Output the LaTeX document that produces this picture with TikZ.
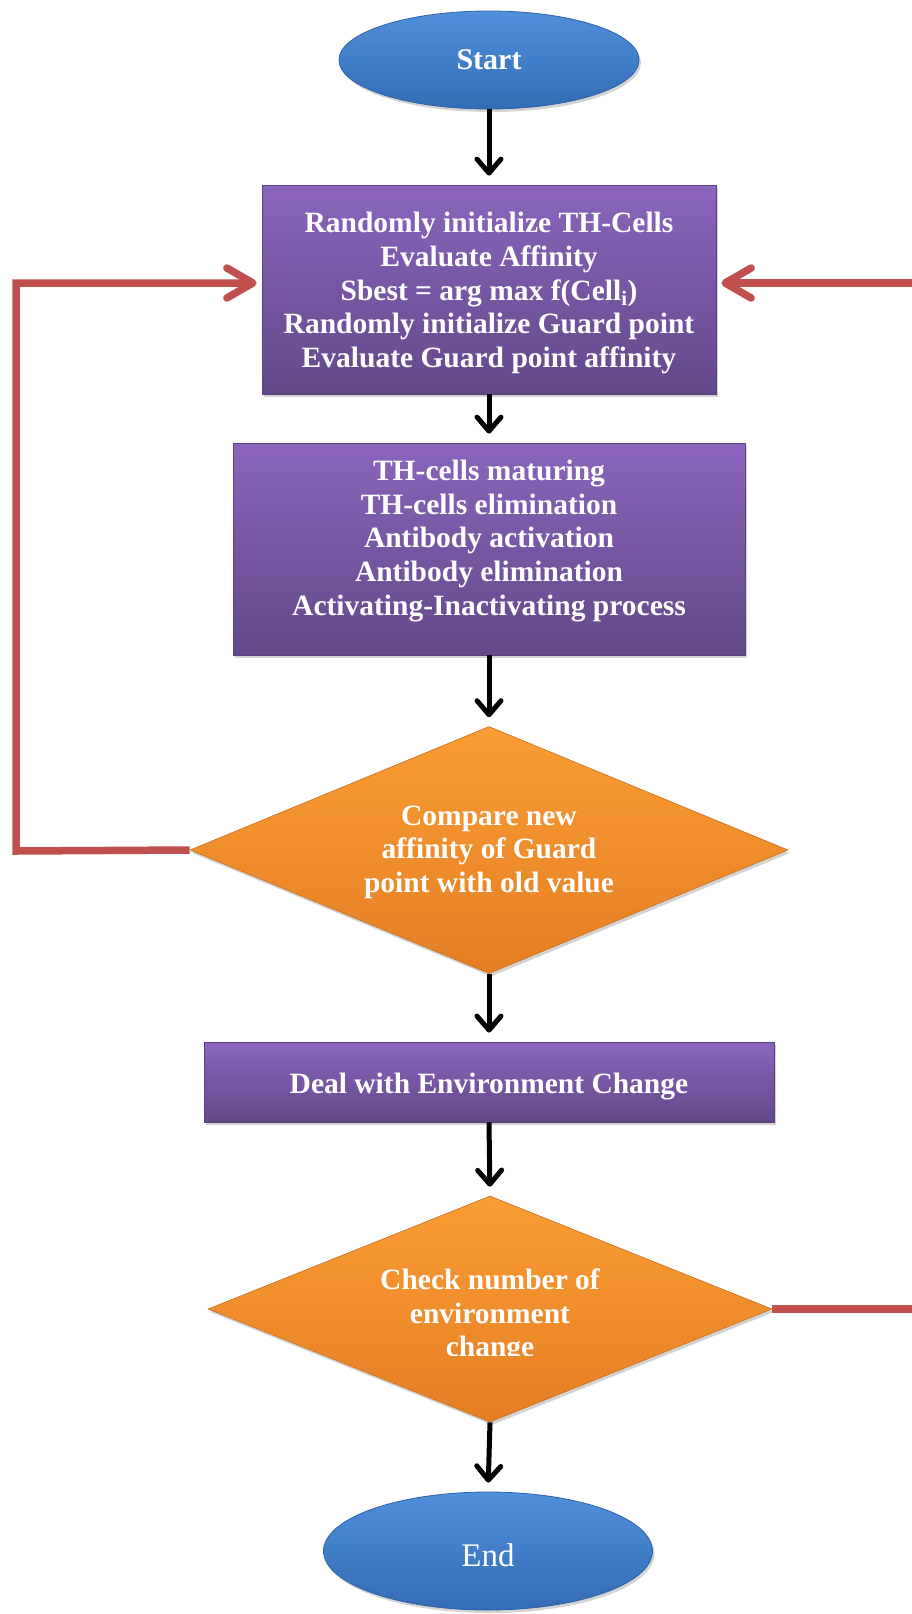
\documentclass[tikz,border=0pt]{standalone}
\usepackage{fontspec}
\setmainfont{Liberation Serif}
\usetikzlibrary{shapes.geometric,arrows.meta,shadows}
\definecolor{bluetop}{HTML}{4F8FDB}
\definecolor{bluebot}{HTML}{336CB5}
\definecolor{blueedge}{HTML}{2E62A6}
\definecolor{purtop}{HTML}{8A65BC}
\definecolor{purbot}{HTML}{634889}
\definecolor{puredge}{HTML}{5A4080}
\definecolor{ortop}{HTML}{FA9D34}
\definecolor{orbot}{HTML}{E47E24}
\definecolor{oredge}{HTML}{C96E1E}
\definecolor{redc}{HTML}{C0504D}
\begin{document}
\begin{tikzpicture}[x=1pt,y=-1pt,
  txt/.style={text=white,font=\fontsize{29.5}{33.6}\selectfont\bfseries,align=center,inner sep=0pt},
  shad/.style={drop shadow={shadow xshift=2pt,shadow yshift=-3pt,opacity=0.35}},
  term/.style={ellipse,top color=bluetop,bottom color=bluebot,draw=blueedge,line width=0.8pt,inner sep=0pt,shad},
  proc/.style={rectangle,top color=purtop,bottom color=purbot,draw=puredge,line width=0.8pt,inner sep=0pt,shad},
  dec/.style={diamond,top color=ortop,bottom color=orbot,draw=oredge,line width=0.6pt,inner sep=0pt,shad},
  flow/.style={line width=5pt,draw=black,shorten >=9pt,-{Straight Barb[length=14pt,width=24pt,round]}},
  loopline/.style={line width=7.5pt,draw=redc,line join=miter},
  looparrow/.style={loopline,shorten >=5pt,-{Straight Barb[length=26pt,width=30pt,round]}}
]
\useasboundingbox (0,0) rectangle (912,1614);

% nodes
\node[term,minimum width=300pt,minimum height=98pt] (start) at (489,60) {};
\node[txt,font=\fontsize{30}{34}\selectfont\bfseries] (tstart) at (489,60) {Start};

\node[proc,minimum width=454pt,minimum height=209pt] (b1) at (489,289.5) {};
\node[txt] (t1) at (489,293) {Randomly initialize TH-Cells\\Evaluate Affinity\\Sbest = arg max f(Cell\textsubscript{i})\\Randomly initialize Guard point\\Evaluate Guard point affinity};

\node[proc,minimum width=512pt,minimum height=212pt] (b2) at (489,549) {};
\node[txt] (t2) at (489,541) {TH-cells maturing\\TH-cells elimination\\Antibody activation\\Antibody elimination\\Activating-Inactivating process};

\node[dec,minimum width=598pt,minimum height=247pt] (d1) at (489,850) {};
\node[txt] (t3) at (489,852) {Compare new\\affinity of Guard\\point with old value};

\node[proc,minimum width=570pt,minimum height=80pt] (b3) at (489,1082) {};
\node[txt] (t4) at (489,1087) {Deal with Environment Change};

\node[dec,minimum width=564pt,minimum height=226pt] (d2) at (490,1309) {};
\begin{scope}
  \clip (200,1190) rectangle (780,1355);
  \node[txt] (t5) at (490,1316) {Check number of\\environment\\change};
\end{scope}

\node[term,minimum width=329pt,minimum height=118pt] (end) at (488,1551) {};
\node[txt,font=\fontsize{33}{36}\selectfont] (tend) at (488,1555) {End};

% black flow arrows
\draw[flow] (start.south) -- (b1.north);
\draw[flow] (b1.south) -- (b2.north);
\draw[flow] (b2.south) -- (d1.north);
\draw[flow] (d1.south) -- (b3.north);
\draw[flow] (b3.south) -- (d2.north);
\draw[flow] (d2.south) -- (end.north);

% red loops
\coordinate (lc1) at (16,851);
\coordinate (lc2) at (16,283);
\coordinate (rc1) at (912,283);
\coordinate (rc2) at (912,1309);
\draw[looparrow] (d1.west) -- (lc1) -- (lc2) -- ([yshift=6.5pt]b1.west);
\draw[looparrow] (rc1) -- ([yshift=6.5pt]b1.east);
\draw[loopline] (d2.east) -- (rc2);
\end{tikzpicture}
\end{document}
